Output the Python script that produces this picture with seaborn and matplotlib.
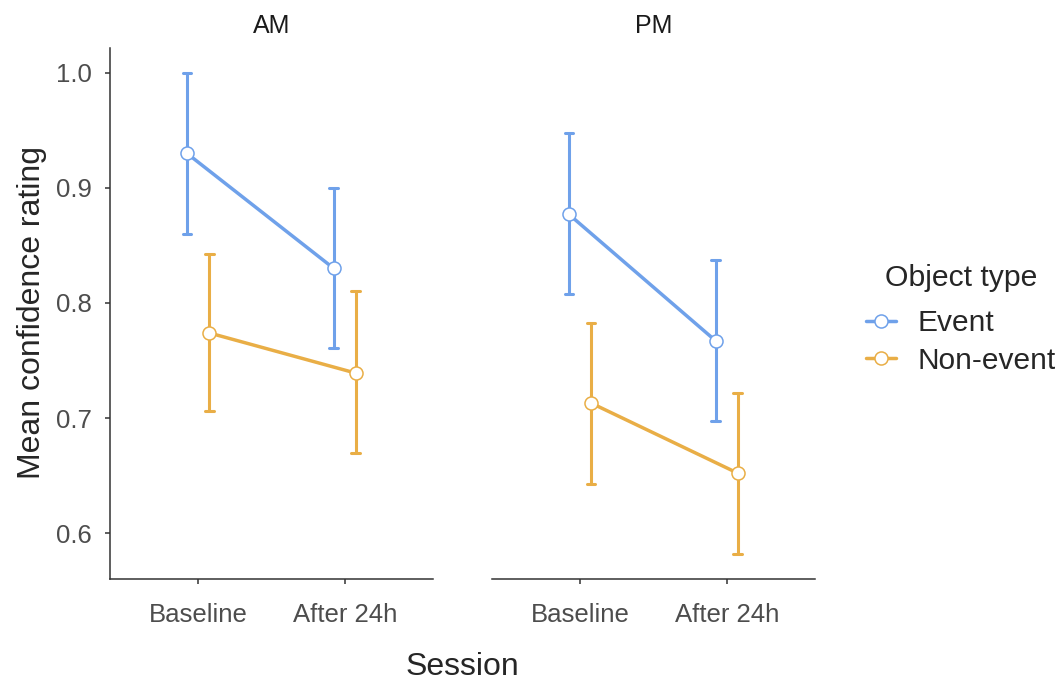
import matplotlib
matplotlib.use("Agg")
import matplotlib.pyplot as plt
from matplotlib.lines import Line2D
import seaborn as sns
import pandas as pd

# ---- data ----
sessions = ["Baseline", "After 24h"]
obj_types = ["Event", "Non-event"]
panels = ["AM", "PM"]

am_event_mean = [0.930, 0.830]
am_event_lo = [0.860, 0.761]
am_event_hi = [1.000, 0.900]
am_non_mean = [0.774, 0.739]
am_non_lo = [0.706, 0.670]
am_non_hi = [0.843, 0.810]

pm_event_mean = [0.877, 0.767]
pm_event_lo = [0.808, 0.697]
pm_event_hi = [0.948, 0.837]
pm_non_mean = [0.713, 0.652]
pm_non_lo = [0.643, 0.582]
pm_non_hi = [0.783, 0.722]

colors = {"Event": "#6fa1ea", "Non-event": "#e9ae46"}

series = {
    ("AM", "Event"): (am_event_lo, am_event_mean, am_event_hi),
    ("AM", "Non-event"): (am_non_lo, am_non_mean, am_non_hi),
    ("PM", "Event"): (pm_event_lo, pm_event_mean, pm_event_hi),
    ("PM", "Non-event"): (pm_non_lo, pm_non_mean, pm_non_hi),
}

rows = []
for (panel, ot), (lo, mean, hi) in series.items():
    for i, s in enumerate(sessions):
        for v in (lo[i], mean[i], hi[i]):
            rows.append({"panel": panel, "Session": s, "Object type": ot, "value": v})
df = pd.DataFrame(rows)

sns.set_theme(style="ticks")
plt.rcParams["font.family"] = ["Liberation Sans", "DejaVu Sans"]

fig = plt.figure(figsize=(10.63, 6.80), dpi=100)
ax_w = 0.3038
ax_b = 0.1485
ax_h = 0.7809
lefts = [0.1035, 0.4628]

LW = 2.5
MS = 9.4
MEW = 1.1
tick_color = "#4d4d4d"
for k, panel in enumerate(panels):
    ax = fig.add_axes([lefts[k], ax_b, ax_w, ax_h])
    sub = df[df["panel"] == panel]
    sns.pointplot(
        data=sub, x="Session", y="value", hue="Object type",
        order=sessions, hue_order=obj_types, palette=colors,
        estimator="median", errorbar=("pi", 100), dodge=0.15,
        capsize=0.06, markers="o", linestyles="-",
        markersize=MS, markerfacecolor="white", markeredgewidth=MEW,
        linewidth=LW, err_kws={"linewidth": 2.2},
        legend=False, ax=ax,
    )
    for ln in ax.lines:
        if ln.get_marker() not in (None, "None", "", " "):
            ln.set_zorder(5)
    ax.set_xlim(-0.6, 1.6)
    ax.set_ylim(0.56, 1.0217)
    ax.set_yticks([0.6, 0.7, 0.8, 0.9, 1.0])
    ax.set_xlabel("")
    ax.set_ylabel("")
    ax.set_title(panel, fontsize=18, pad=11, color="#1a1a1a")
    for sp in ["top", "right"]:
        ax.spines[sp].set_visible(False)
    for sp in ["bottom", "left"]:
        ax.spines[sp].set_linewidth(1.1)
        ax.spines[sp].set_color("#333333")
    ax.tick_params(axis="both", labelsize=18.5, labelcolor=tick_color,
                   color="#333333", length=3.6, width=1.1)
    ax.tick_params(axis="x", pad=13.5)
    ax.tick_params(axis="y", pad=9.5)
    if k == 1:
        ax.spines["left"].set_visible(False)
        ax.tick_params(axis="y", left=False, labelleft=False)

fig.text(0.435, 0.0074, "Session", fontsize=23, ha="center", va="baseline")
fig.text(0.016, 0.54, "Mean confidence rating", fontsize=23, rotation=90,
         ha="left", va="center")

handles = [
    Line2D([], [], color=colors[ot], linewidth=LW, marker="o", markersize=MS,
           markerfacecolor="white", markeredgewidth=MEW)
    for ot in obj_types
]
leg = fig.legend(handles, obj_types, title="Object type", loc="upper left",
                 bbox_to_anchor=(0.8147, 0.612), frameon=False, fontsize=21.5,
                 title_fontsize=21.7, handlelength=1.0, handletextpad=0.73,
                 labelspacing=0.32, borderpad=0, borderaxespad=0,
                 alignment="center")
leg._legend_box.sep = 12.6

fig.savefig("out.png", dpi=100)
